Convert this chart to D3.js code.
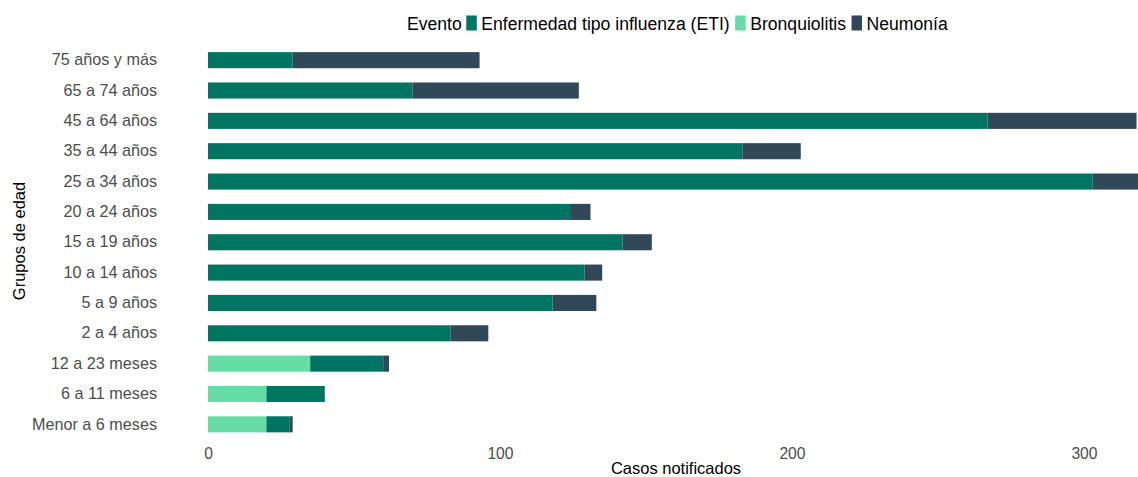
<!DOCTYPE html>
<html><head><meta charset="utf-8">
<script src="https://cdn.jsdelivr.net/npm/d3@7"></script>
<style>body{margin:0;background:#fff}svg{display:block;font-family:"Liberation Sans",Arial,sans-serif}</style>
</head><body><svg id="c" width="1138" height="477"></svg>
<script>
const categories = ["75 años y más","65 a 74 años","45 a 64 años","35 a 44 años","25 a 34 años","20 a 24 años","15 a 19 años","10 a 14 años","5 a 9 años","2 a 4 años","12 a 23 meses","6 a 11 meses","Menor a 6 meses"];
const bronquiolitis = [0,0,0,0,0,0,0,0,0,0,35,20,20];
const eti = [29,70,267,183,303,124,142,129,118,83,25,20,8];
const neumonia = [64,57,51,20,16,7,10,6,15,13,2,0,1];
const xTicks = [0,100,200,300];
const seriesNames = ["Bronquiolitis","Enfermedad tipo influenza (ETI)","Neumonía"];
const legendOrder = ["Enfermedad tipo influenza (ETI)","Bronquiolitis","Neumonía"];
const colors = {"Enfermedad tipo influenza (ETI)":"#007562","Bronquiolitis":"#66dda6","Neumonía":"#304858"};

(function(){
const svg = d3.select("#c");
const mLeft = 208, mRight = 1138, mTop = 45, mBottom = 439.5;
const rows = categories.map((c,i)=>({cat:c,"Bronquiolitis":bronquiolitis[i],"Enfermedad tipo influenza (ETI)":eti[i],"Neumonía":neumonia[i]}));
const totals = rows.map((r,i)=>bronquiolitis[i]+eti[i]+neumonia[i]);
const x = d3.scaleLinear().domain([0, d3.max(totals) - 0.5]).range([mLeft,mRight]);
const y = d3.scaleBand().domain(categories).range([mTop,mBottom]).paddingInner(0.47).paddingOuter(0.235);
const stack = d3.stack().keys(seriesNames)(rows);

svg.append("g").selectAll("g").data(stack).join("g").attr("fill",d=>colors[d.key])
  .selectAll("rect").data(d=>d).join("rect")
  .attr("x",d=>x(d[0])).attr("width",d=>Math.max(0,Math.min(mRight,x(d[1]))-x(d[0])))
  .attr("y",d=>y(d.data.cat)).attr("height",y.bandwidth());

const xa = svg.append("g").attr("transform",`translate(0,${mBottom})`)
  .call(d3.axisBottom(x).tickValues(xTicks).tickSize(0).tickPadding(8));
xa.select(".domain").remove();
xa.selectAll("text").attr("font-size",15.7).attr("fill","#4d4d4d").attr("font-family","Liberation Sans, Arial");

const ya = svg.append("g").attr("transform",`translate(${mLeft},0)`)
  .call(d3.axisLeft(y).tickSize(0).tickPadding(51));
ya.select(".domain").remove();
ya.selectAll("text").attr("font-size",16.2).attr("fill","#4d4d4d").attr("font-family","Liberation Sans, Arial");

svg.append("text").attr("x",676).attr("y",474).attr("text-anchor","middle")
  .attr("font-size",16.5).attr("fill","#000").text("Casos notificados");
svg.append("text").attr("transform","translate(25,241) rotate(-90)").attr("text-anchor","middle")
  .attr("font-size",16.5).attr("fill","#000").text("Grupos de edad");

const lg = svg.append("g");
let lx = 407;
const ly = 29.5;
const t0 = lg.append("text").attr("x",lx).attr("y",ly).attr("font-size",17.6).text("Evento");
lx += t0.node().getComputedTextLength() + 4.5;
legendOrder.forEach(k=>{
  lg.append("rect").attr("x",lx).attr("y",15.5).attr("width",10.5).attr("height",15).attr("fill",colors[k]);
  lx += 15;
  const t = lg.append("text").attr("x",lx).attr("y",ly).attr("font-size",17.6).text(k);
  lx += t.node().getComputedTextLength() + 5.5;
});
})();
</script></body></html>
